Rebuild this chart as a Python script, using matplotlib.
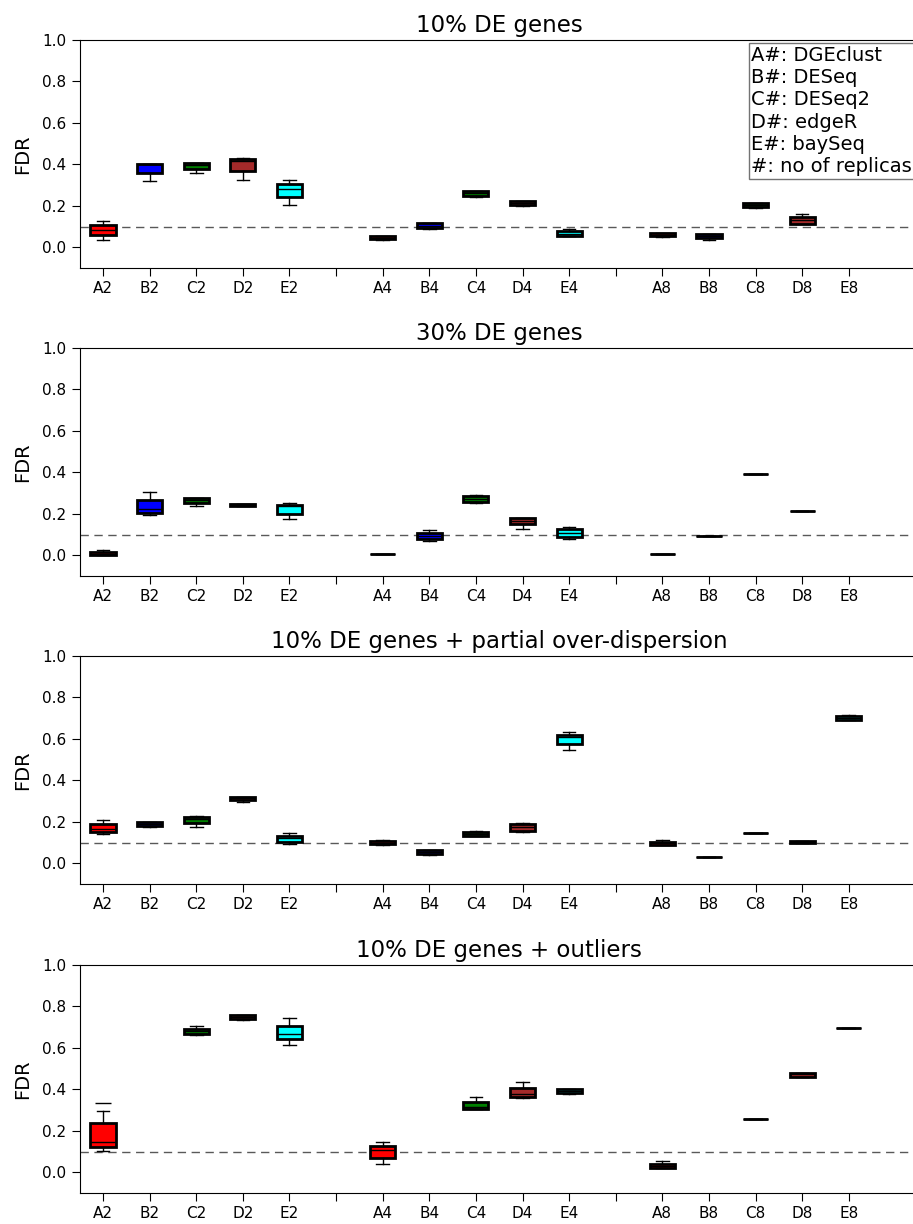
import numpy as np
import matplotlib
matplotlib.use('Agg')
import matplotlib.pyplot as plt

nan = np.nan

####################################
# labels / categories
####################################
titles = ['10% DE genes', '30% DE genes',
          '10% DE genes + partial over-dispersion', '10% DE genes + outliers']
methods = ['A', 'B', 'C', 'D', 'E']
replicas = ['2', '4', '8']
method_colors = ['#ff0000', '#0000ff', '#008000', '#a52a2a', '#00ffff']
legend_text = ("A#: DGEclust\nB#: DESeq\nC#: DESeq2\nD#: edgeR\n"
               "E#: baySeq\n#: no of replicas")
fdr_level = 0.1

####################################
# box statistics, order A2..E2, A4..E4, A8..E8
####################################
p1_q1 = [0.061, 0.358, 0.380, 0.369, 0.242, 0.039, 0.095, 0.247, 0.204, 0.053, 0.053, 0.043, 0.193, 0.114, nan]
p1_med = [0.085, 0.400, 0.395, 0.417, 0.279, 0.045, 0.105, 0.260, 0.213, 0.066, 0.061, 0.055, 0.205, 0.133, nan]
p1_q3 = [0.108, 0.404, 0.408, 0.428, 0.303, 0.055, 0.116, 0.271, 0.225, 0.079, 0.069, 0.064, 0.213, 0.146, nan]
p1_lo = [0.035, 0.319, 0.358, 0.324, 0.204, 0.035, 0.088, 0.242, 0.199, 0.053, 0.051, 0.035, 0.189, 0.114, nan]
p1_hi = [0.125, 0.404, 0.408, 0.433, 0.324, 0.055, 0.116, 0.271, 0.225, 0.088, 0.071, 0.064, 0.213, 0.162, nan]

p2_q1 = [0.000, 0.205, 0.252, 0.239, 0.201, 0.006, 0.080, 0.258, 0.151, 0.090, 0.006, 0.091, 0.393, 0.212, nan]
p2_med = [0.008, 0.225, 0.265, 0.245, 0.236, 0.006, 0.095, 0.273, 0.167, 0.109, 0.006, 0.093, 0.393, 0.212, nan]
p2_q3 = [0.017, 0.266, 0.276, 0.249, 0.244, 0.006, 0.109, 0.286, 0.180, 0.125, 0.006, 0.095, 0.393, 0.212, nan]
p2_lo = [0.000, 0.193, 0.239, 0.236, 0.177, 0.006, 0.071, 0.254, 0.128, 0.077, 0.006, 0.091, 0.393, 0.212, nan]
p2_hi = [0.027, 0.307, 0.276, 0.249, 0.252, 0.006, 0.124, 0.292, 0.180, 0.138, 0.006, 0.095, 0.393, 0.212, nan]

p3_q1 = [0.150, 0.180, 0.193, 0.304, 0.103, 0.092, 0.043, 0.130, 0.158, 0.574, 0.087, 0.029, 0.145, 0.096, 0.690]
p3_med = [0.167, 0.190, 0.212, 0.313, 0.121, 0.100, 0.054, 0.141, 0.174, 0.611, 0.096, 0.029, 0.145, 0.101, 0.699]
p3_q3 = [0.188, 0.199, 0.225, 0.322, 0.133, 0.108, 0.064, 0.149, 0.188, 0.621, 0.103, 0.029, 0.145, 0.106, 0.709]
p3_lo = [0.140, 0.177, 0.174, 0.294, 0.093, 0.090, 0.040, 0.130, 0.150, 0.547, 0.087, 0.029, 0.145, 0.096, 0.690]
p3_hi = [0.207, 0.199, 0.230, 0.322, 0.148, 0.110, 0.064, 0.154, 0.195, 0.632, 0.111, 0.029, 0.145, 0.106, 0.714]

p4_q1 = [0.122, nan, 0.666, 0.741, 0.641, 0.068, nan, 0.305, 0.363, 0.383, 0.021, nan, 0.257, 0.461, 0.698]
p4_med = [0.145, nan, 0.682, 0.751, 0.667, 0.108, nan, 0.313, 0.376, 0.392, 0.031, nan, 0.257, 0.473, 0.698]
p4_q3 = [0.240, nan, 0.691, 0.760, 0.706, 0.127, nan, 0.339, 0.407, 0.400, 0.040, nan, 0.257, 0.481, 0.698]
p4_lo = [0.101, nan, 0.661, 0.735, 0.616, 0.039, nan, 0.305, 0.359, 0.376, 0.021, nan, 0.257, 0.461, 0.698]
p4_hi = [0.294, nan, 0.704, 0.760, 0.743, 0.148, nan, 0.362, 0.434, 0.400, 0.053, nan, 0.257, 0.481, 0.698]
p4_fliers = {0: [0.333]}  # A2 outlier

panels = [
    (p1_q1, p1_med, p1_q3, p1_lo, p1_hi, {}),
    (p2_q1, p2_med, p2_q3, p2_lo, p2_hi, {}),
    (p3_q1, p3_med, p3_q3, p3_lo, p3_hi, {}),
    (p4_q1, p4_med, p4_q3, p4_lo, p4_hi, p4_fliers),
]

# tick layout: 5 methods per replica group, with an empty slot in between
tick_labels = []
for g, r in enumerate(replicas):
    tick_labels += [m + r for m in methods]
    if g < len(replicas) - 1:
        tick_labels.append('')
tick_pos = np.arange(1, len(tick_labels) + 1)
box_pos = [p for p, l in zip(tick_pos, tick_labels) if l != '']

W, H = 913, 1224
fig = plt.figure(figsize=(W / 100, H / 100), dpi=100)
plt.rcParams['font.family'] = 'DejaVu Sans'

ax_tops = [40, 348, 656, 965]
ax_h = 228
x_left = 79.7
x_width = 839.0

for ip, (q1, med, q3, lo, hi, fl) in enumerate(panels):
    ax = fig.add_axes([x_left / W, 1 - (ax_tops[ip] + ax_h) / H, x_width / W, ax_h / H])

    stats, pos, cols = [], [], []
    for i in range(len(q1)):
        if np.isnan(med[i]):
            continue
        stats.append(dict(med=med[i], q1=q1[i], q3=q3[i], whislo=lo[i], whishi=hi[i],
                          fliers=fl.get(i, [])))
        pos.append(box_pos[i])
        cols.append(method_colors[i % 5])

    bp = ax.bxp(stats, positions=pos, widths=0.54, patch_artist=True, showfliers=True,
                boxprops=dict(edgecolor='black', linewidth=2),
                medianprops=dict(color='black', linewidth=1),
                whiskerprops=dict(color='black', linewidth=1, linestyle='-'),
                capprops=dict(color='black', linewidth=1),
                flierprops=dict(marker='_', markersize=12, markeredgecolor='black',
                                markeredgewidth=1))
    for patch, c in zip(bp['boxes'], cols):
        patch.set_facecolor(c)

    ax.axhline(fdr_level, color='0.35', linestyle=(0, (6, 4)), linewidth=1, zorder=0)

    ax.set_xlim(0.5, 18.5)
    ax.set_ylim(-0.1, 1.0)
    ax.set_xticks(tick_pos)
    ax.set_xticklabels(tick_labels, fontsize=11)
    ax.set_yticks([0.0, 0.2, 0.4, 0.6, 0.8, 1.0])
    ax.set_yticklabels(['0.0', '0.2', '0.4', '0.6', '0.8', '1.0'], fontsize=11)
    ax.tick_params(direction='out', length=6, top=False, right=False)
    ax.set_ylabel('FDR', fontsize=14, labelpad=7)
    ax.set_title(titles[ip], fontsize=16.5, pad=6)

    if ip == 0:
        ax.text(0.8, 0.975, legend_text, transform=ax.transAxes, fontsize=14,
                va='top', ha='left', linespacing=1.22,
                bbox=dict(facecolor='white', edgecolor='0.45', boxstyle='square,pad=0.12'))

fig.savefig('out.png', dpi=100)
